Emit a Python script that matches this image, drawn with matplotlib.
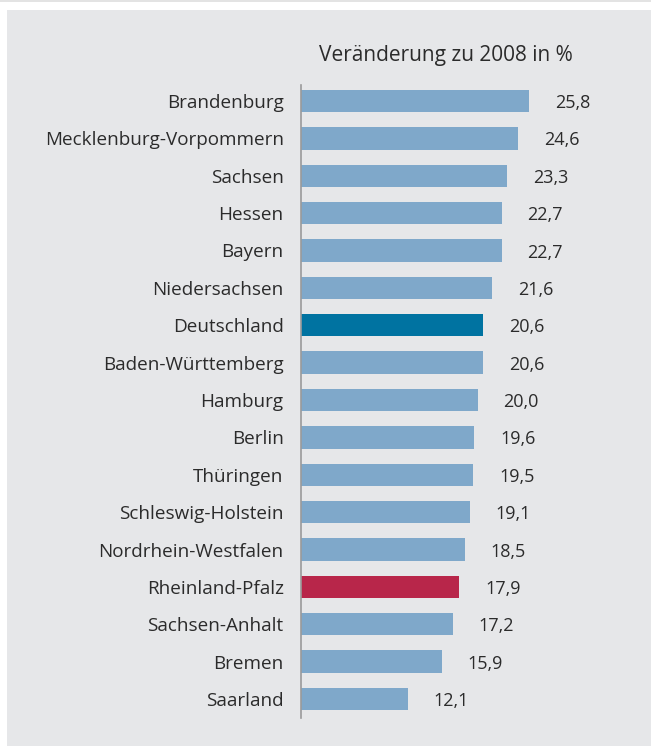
import matplotlib.pyplot as plt
from matplotlib.patches import Rectangle

laender = ['Brandenburg', 'Mecklenburg-Vorpommern', 'Sachsen', 'Hessen', 'Bayern',
           'Niedersachsen', 'Deutschland', 'Baden-Württemberg', 'Hamburg', 'Berlin',
           'Thüringen', 'Schleswig-Holstein', 'Nordrhein-Westfalen', 'Rheinland-Pfalz',
           'Sachsen-Anhalt', 'Bremen', 'Saarland']
veraenderung = [25.8, 24.6, 23.3, 22.7, 22.7, 21.6, 20.6, 20.6, 20.0, 19.6,
                19.5, 19.1, 18.5, 17.9, 17.2, 15.9, 12.1]

HELL = '#7fa8ca'
colors = {'Deutschland': '#0073a1', 'Rheinland-Pfalz': '#b8264a'}
BG = '#e6e7e9'
TXT = '#2b2b2b'

plt.rcParams['font.family'] = ['Open Sans', 'DejaVu Sans']

W, H = 651, 746
fig = plt.figure(figsize=(W / 100, H / 100), dpi=100)
fig.patch.set_facecolor('white')
fig.patches.append(Rectangle((7 / W, 0), 1, 1 - 10 / H, transform=fig.transFigure,
                             facecolor=BG, edgecolor='none', zorder=-1))
fig.patches.append(Rectangle((0, 1 - 1.5 / H), 1, 1.5 / H, transform=fig.transFigure,
                             facecolor='#e3e3e3', edgecolor='none', zorder=-1))

# axes: spine at x=301px, from y=85 to y=718 px
ax = fig.add_axes([301 / W, 1 - 718 / H, (640 - 301) / W, (718 - 85) / H])
ax.set_facecolor('none')

y = list(range(len(laender)))
bar_colors = [colors.get(l, HELL) for l in laender]
ax.barh(y, veraenderung, height=0.6, color=bar_colors, zorder=2)

for yi, v in zip(y, veraenderung):
    ax.annotate(f'{v:.1f}'.replace('.', ','), (v, yi), xytext=(18.5, -1.5),
                textcoords='offset points', ha='left', va='center',
                fontsize=13, color=TXT)

ax.set_xlim(0, (640 - 301) / 8.84)
ax.set_ylim(16 + 19 / 37.4, -16 / 37.4)
ax.set_yticks(y)
ax.set_yticklabels(laender, fontsize=13.6, color=TXT)
ax.tick_params(axis='y', length=0, pad=12.5)
ax.set_xticks([])
for s in ['top', 'right', 'bottom']:
    ax.spines[s].set_visible(False)
ax.spines['left'].set_color('#9a9a9a')
ax.spines['left'].set_linewidth(1.2)

fig.text(446 / W, 1 - 55 / H, 'Veränderung zu 2008 in %', ha='center', va='center',
         fontsize=15, color=TXT)

fig.savefig('out.png', dpi=100, facecolor=fig.get_facecolor())
